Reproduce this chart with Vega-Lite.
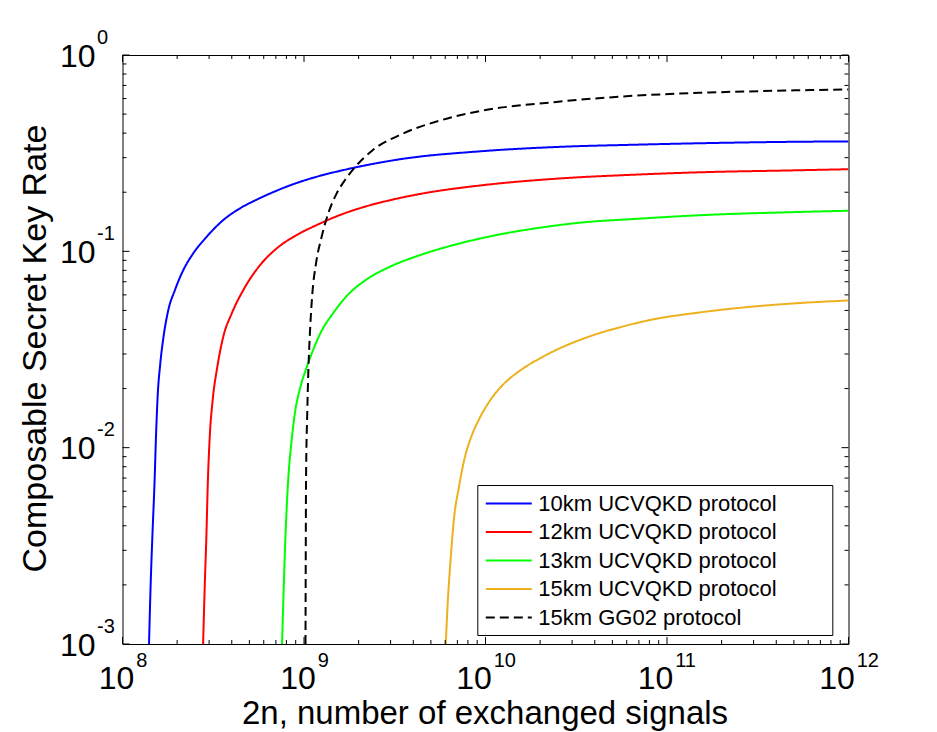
{
  "$schema": "https://vega.github.io/schema/vega-lite/v6.json",
  "width": 726,
  "height": 589,
  "autosize": {"type": "none"},
  "padding": {"left": 122.5, "top": 55, "right": 88.5, "bottom": 88},
  "background": "white",
  "config": {
    "font": "Liberation Sans",
    "view": {"stroke": "black", "strokeWidth": 1},
    "axis": {
      "grid": false,
      "labelColor": "black",
      "titleColor": "black",
      "titleFontWeight": "normal",
      "labelFlush": false,
      "labelOverlap": false,
      "labelBound": false
    }
  },
  "datasets": {
    "curves": [
      {"series": "10km UCVQKD protocol", "n": 1.40e8, "rate": 0.001},
      {"series": "10km UCVQKD protocol", "n": 1.429e8, "rate": 0.002},
      {"series": "10km UCVQKD protocol", "n": 1.462e8, "rate": 0.0036},
      {"series": "10km UCVQKD protocol", "n": 1.50e8, "rate": 0.0065},
      {"series": "10km UCVQKD protocol", "n": 1.531e8, "rate": 0.0117},
      {"series": "10km UCVQKD protocol", "n": 1.563e8, "rate": 0.0185},
      {"series": "10km UCVQKD protocol", "n": 1.611e8, "rate": 0.0262},
      {"series": "10km UCVQKD protocol", "n": 1.679e8, "rate": 0.0362},
      {"series": "10km UCVQKD protocol", "n": 1.786e8, "rate": 0.0500},
      {"series": "10km UCVQKD protocol", "n": 1.945e8, "rate": 0.0635},
      {"series": "10km UCVQKD protocol", "n": 2.163e8, "rate": 0.0803},
      {"series": "10km UCVQKD protocol", "n": 2.455e8, "rate": 0.0977},
      {"series": "10km UCVQKD protocol", "n": 2.91e8, "rate": 0.1187},
      {"series": "10km UCVQKD protocol", "n": 3.59e8, "rate": 0.1443},
      {"series": "10km UCVQKD protocol", "n": 4.44e8, "rate": 0.1656},
      {"series": "10km UCVQKD protocol", "n": 5.48e8, "rate": 0.1832},
      {"series": "10km UCVQKD protocol", "n": 6.78e8, "rate": 0.2004},
      {"series": "10km UCVQKD protocol", "n": 8.38e8, "rate": 0.2168},
      {"series": "10km UCVQKD protocol", "n": 1.035e9, "rate": 0.2317},
      {"series": "10km UCVQKD protocol", "n": 1.277e9, "rate": 0.2449},
      {"series": "10km UCVQKD protocol", "n": 1.578e9, "rate": 0.2570},
      {"series": "10km UCVQKD protocol", "n": 1.91e9, "rate": 0.2673},
      {"series": "10km UCVQKD protocol", "n": 3.51e9, "rate": 0.296},
      {"series": "10km UCVQKD protocol", "n": 9.27e9, "rate": 0.323},
      {"series": "10km UCVQKD protocol", "n": 2.45e10, "rate": 0.340},
      {"series": "10km UCVQKD protocol", "n": 6.47e10, "rate": 0.349},
      {"series": "10km UCVQKD protocol", "n": 1.71e11, "rate": 0.356},
      {"series": "10km UCVQKD protocol", "n": 4.52e11, "rate": 0.361},
      {"series": "10km UCVQKD protocol", "n": 1e12, "rate": 0.363},

      {"series": "12km UCVQKD protocol", "n": 2.78e8, "rate": 0.001},
      {"series": "12km UCVQKD protocol", "n": 2.84e8, "rate": 0.002},
      {"series": "12km UCVQKD protocol", "n": 2.90e8, "rate": 0.0036},
      {"series": "12km UCVQKD protocol", "n": 2.95e8, "rate": 0.0065},
      {"series": "12km UCVQKD protocol", "n": 3.03e8, "rate": 0.0117},
      {"series": "12km UCVQKD protocol", "n": 3.14e8, "rate": 0.0175},
      {"series": "12km UCVQKD protocol", "n": 3.33e8, "rate": 0.0258},
      {"series": "12km UCVQKD protocol", "n": 3.59e8, "rate": 0.0367},
      {"series": "12km UCVQKD protocol", "n": 4.0e8, "rate": 0.0483},
      {"series": "12km UCVQKD protocol", "n": 4.63e8, "rate": 0.0635},
      {"series": "12km UCVQKD protocol", "n": 5.73e8, "rate": 0.0851},
      {"series": "12km UCVQKD protocol", "n": 7.08e8, "rate": 0.1036},
      {"series": "12km UCVQKD protocol", "n": 9.12e8, "rate": 0.1211},
      {"series": "12km UCVQKD protocol", "n": 1.175e9, "rate": 0.1361},
      {"series": "12km UCVQKD protocol", "n": 1.578e9, "rate": 0.1531},
      {"series": "12km UCVQKD protocol", "n": 2.16e9, "rate": 0.1687},
      {"series": "12km UCVQKD protocol", "n": 2.62e9, "rate": 0.177},
      {"series": "12km UCVQKD protocol", "n": 4.47e9, "rate": 0.1968},
      {"series": "12km UCVQKD protocol", "n": 9.27e9, "rate": 0.2163},
      {"series": "12km UCVQKD protocol", "n": 2.45e10, "rate": 0.2344},
      {"series": "12km UCVQKD protocol", "n": 6.47e10, "rate": 0.2455},
      {"series": "12km UCVQKD protocol", "n": 1.71e11, "rate": 0.2535},
      {"series": "12km UCVQKD protocol", "n": 4.52e11, "rate": 0.258},
      {"series": "12km UCVQKD protocol", "n": 1e12, "rate": 0.262},

      {"series": "13km UCVQKD protocol", "n": 7.57e8, "rate": 0.001},
      {"series": "13km UCVQKD protocol", "n": 7.74e8, "rate": 0.002},
      {"series": "13km UCVQKD protocol", "n": 7.91e8, "rate": 0.0036},
      {"series": "13km UCVQKD protocol", "n": 8.18e8, "rate": 0.0068},
      {"series": "13km UCVQKD protocol", "n": 8.55e8, "rate": 0.0109},
      {"series": "13km UCVQKD protocol", "n": 8.91e8, "rate": 0.015},
      {"series": "13km UCVQKD protocol", "n": 9.50e8, "rate": 0.01995},
      {"series": "13km UCVQKD protocol", "n": 1.035e9, "rate": 0.0257},
      {"series": "13km UCVQKD protocol", "n": 1.125e9, "rate": 0.0316},
      {"series": "13km UCVQKD protocol", "n": 1.251e9, "rate": 0.0394},
      {"series": "13km UCVQKD protocol", "n": 1.449e9, "rate": 0.0485},
      {"series": "13km UCVQKD protocol", "n": 1.718e9, "rate": 0.0592},
      {"series": "13km UCVQKD protocol", "n": 2.213e9, "rate": 0.0719},
      {"series": "13km UCVQKD protocol", "n": 2.978e9, "rate": 0.0835},
      {"series": "13km UCVQKD protocol", "n": 4.36e9, "rate": 0.0957},
      {"series": "13km UCVQKD protocol", "n": 6.65e9, "rate": 0.1076},
      {"series": "13km UCVQKD protocol", "n": 1.153e10, "rate": 0.1211},
      {"series": "13km UCVQKD protocol", "n": 2.17e10, "rate": 0.1334},
      {"series": "13km UCVQKD protocol", "n": 3.32e10, "rate": 0.1400},
      {"series": "13km UCVQKD protocol", "n": 6.47e10, "rate": 0.146},
      {"series": "13km UCVQKD protocol", "n": 1.71e11, "rate": 0.1535},
      {"series": "13km UCVQKD protocol", "n": 4.52e11, "rate": 0.158},
      {"series": "13km UCVQKD protocol", "n": 1e12, "rate": 0.161},

      {"series": "15km UCVQKD protocol", "n": 6.04e9, "rate": 0.001},
      {"series": "15km UCVQKD protocol", "n": 6.17e9, "rate": 0.00152},
      {"series": "15km UCVQKD protocol", "n": 6.43e9, "rate": 0.00273},
      {"series": "15km UCVQKD protocol", "n": 6.71e9, "rate": 0.00438},
      {"series": "15km UCVQKD protocol", "n": 7.14e9, "rate": 0.0063},
      {"series": "15km UCVQKD protocol", "n": 7.62e9, "rate": 0.0086},
      {"series": "15km UCVQKD protocol", "n": 8.30e9, "rate": 0.0112},
      {"series": "15km UCVQKD protocol", "n": 9.23e9, "rate": 0.0140},
      {"series": "15km UCVQKD protocol", "n": 1.069e10, "rate": 0.0176},
      {"series": "15km UCVQKD protocol", "n": 1.253e10, "rate": 0.0210},
      {"series": "15km UCVQKD protocol", "n": 1.549e10, "rate": 0.0247},
      {"series": "15km UCVQKD protocol", "n": 1.995e10, "rate": 0.0285},
      {"series": "15km UCVQKD protocol", "n": 2.57e10, "rate": 0.0321},
      {"series": "15km UCVQKD protocol", "n": 3.32e10, "rate": 0.0354},
      {"series": "15km UCVQKD protocol", "n": 4.24e10, "rate": 0.0383},
      {"series": "15km UCVQKD protocol", "n": 5.60e10, "rate": 0.0412},
      {"series": "15km UCVQKD protocol", "n": 7.98e10, "rate": 0.0446},
      {"series": "15km UCVQKD protocol", "n": 1.503e11, "rate": 0.0488},
      {"series": "15km UCVQKD protocol", "n": 2.83e11, "rate": 0.0521},
      {"series": "15km UCVQKD protocol", "n": 5.33e11, "rate": 0.0545},
      {"series": "15km UCVQKD protocol", "n": 1e12, "rate": 0.0562},

      {"series": "15km GG02 protocol", "n": 1.019e9, "rate": 0.001},
      {"series": "15km GG02 protocol", "n": 1.022e9, "rate": 0.0025},
      {"series": "15km GG02 protocol", "n": 1.026e9, "rate": 0.0068},
      {"series": "15km GG02 protocol", "n": 1.042e9, "rate": 0.015},
      {"series": "15km GG02 protocol", "n": 1.057e9, "rate": 0.0248},
      {"series": "15km GG02 protocol", "n": 1.08e9, "rate": 0.0397},
      {"series": "15km GG02 protocol", "n": 1.112e9, "rate": 0.0611},
      {"series": "15km GG02 protocol", "n": 1.165e9, "rate": 0.0869},
      {"series": "15km GG02 protocol", "n": 1.251e9, "rate": 0.1187},
      {"series": "15km GG02 protocol", "n": 1.361e9, "rate": 0.1563},
      {"series": "15km GG02 protocol", "n": 1.514e9, "rate": 0.1974},
      {"series": "15km GG02 protocol", "n": 1.683e9, "rate": 0.2307},
      {"series": "15km GG02 protocol", "n": 1.91e9, "rate": 0.2685},
      {"series": "15km GG02 protocol", "n": 2.38e9, "rate": 0.3266},
      {"series": "15km GG02 protocol", "n": 3.51e9, "rate": 0.398},
      {"series": "15km GG02 protocol", "n": 5.70e9, "rate": 0.4656},
      {"series": "15km GG02 protocol", "n": 9.27e9, "rate": 0.5176},
      {"series": "15km GG02 protocol", "n": 2.45e10, "rate": 0.5768},
      {"series": "15km GG02 protocol", "n": 6.47e10, "rate": 0.6194},
      {"series": "15km GG02 protocol", "n": 1.71e11, "rate": 0.644},
      {"series": "15km GG02 protocol", "n": 4.52e11, "rate": 0.659},
      {"series": "15km GG02 protocol", "n": 1e12, "rate": 0.668}
    ],
    "xticks": [
      {"v": 1e8, "kind": "major"}, {"v": 1e9, "kind": "major"}, {"v": 1e10, "kind": "major"}, {"v": 1e11, "kind": "major"}, {"v": 1e12, "kind": "major"},
      {"v": 2e8, "kind": "minor"}, {"v": 3e8, "kind": "minor"}, {"v": 4e8, "kind": "minor"}, {"v": 5e8, "kind": "minor"}, {"v": 6e8, "kind": "minor"}, {"v": 7e8, "kind": "minor"}, {"v": 8e8, "kind": "minor"}, {"v": 9e8, "kind": "minor"},
      {"v": 2e9, "kind": "minor"}, {"v": 3e9, "kind": "minor"}, {"v": 4e9, "kind": "minor"}, {"v": 5e9, "kind": "minor"}, {"v": 6e9, "kind": "minor"}, {"v": 7e9, "kind": "minor"}, {"v": 8e9, "kind": "minor"}, {"v": 9e9, "kind": "minor"},
      {"v": 2e10, "kind": "minor"}, {"v": 3e10, "kind": "minor"}, {"v": 4e10, "kind": "minor"}, {"v": 5e10, "kind": "minor"}, {"v": 6e10, "kind": "minor"}, {"v": 7e10, "kind": "minor"}, {"v": 8e10, "kind": "minor"}, {"v": 9e10, "kind": "minor"},
      {"v": 2e11, "kind": "minor"}, {"v": 3e11, "kind": "minor"}, {"v": 4e11, "kind": "minor"}, {"v": 5e11, "kind": "minor"}, {"v": 6e11, "kind": "minor"}, {"v": 7e11, "kind": "minor"}, {"v": 8e11, "kind": "minor"}, {"v": 9e11, "kind": "minor"}
    ],
    "yticks": [
      {"v": 0.001, "kind": "major"}, {"v": 0.01, "kind": "major"}, {"v": 0.1, "kind": "major"}, {"v": 1, "kind": "major"},
      {"v": 0.002, "kind": "minor"}, {"v": 0.003, "kind": "minor"}, {"v": 0.004, "kind": "minor"}, {"v": 0.005, "kind": "minor"}, {"v": 0.006, "kind": "minor"}, {"v": 0.007, "kind": "minor"}, {"v": 0.008, "kind": "minor"}, {"v": 0.009, "kind": "minor"},
      {"v": 0.02, "kind": "minor"}, {"v": 0.03, "kind": "minor"}, {"v": 0.04, "kind": "minor"}, {"v": 0.05, "kind": "minor"}, {"v": 0.06, "kind": "minor"}, {"v": 0.07, "kind": "minor"}, {"v": 0.08, "kind": "minor"}, {"v": 0.09, "kind": "minor"},
      {"v": 0.2, "kind": "minor"}, {"v": 0.3, "kind": "minor"}, {"v": 0.4, "kind": "minor"}, {"v": 0.5, "kind": "minor"}, {"v": 0.6, "kind": "minor"}, {"v": 0.7, "kind": "minor"}, {"v": 0.8, "kind": "minor"}, {"v": 0.9, "kind": "minor"}
    ]
  },
  "data": {"name": "curves"},
  "layer": [
    {
      "mark": {"type": "line", "strokeWidth": 2, "clip": true, "interpolate": "monotone"},
      "encoding": {
        "x": {"field": "n", "type": "quantitative", "scale": {"type": "log", "domain": [1e8, 1e12], "nice": false}, "axis": null},
        "y": {"field": "rate", "type": "quantitative", "scale": {"type": "log", "domain": [0.001, 1], "nice": false}, "axis": null},
        "color": {
          "field": "series", "type": "nominal",
          "scale": {
            "domain": ["10km UCVQKD protocol", "12km UCVQKD protocol", "13km UCVQKD protocol", "15km UCVQKD protocol", "15km GG02 protocol"],
            "range": ["#0000ff", "#ff0000", "#00ff00", "#edb120", "#000000"]
          },
          "legend": {
            "title": null,
            "orient": "none",
            "legendX": 354.8,
            "legendY": 430,
            "symbolType": "M-2,0H2",
            "symbolSize": 529,
            "symbolStrokeWidth": 2,
            "symbolOffset": 13,
            "labelOffset": 17,
            "labelFontSize": 22,
            "labelLimit": 600,
            "labelColor": "black",
            "rowPadding": 4.5,
            "padding": 6,
            "strokeColor": "black",
            "fillColor": "white",
            "cornerRadius": 0,
            "labelExpr": "datum.label + '\u00a0\u00a0\u00a0\u00a0\u00a0\u00a0\u00a0\u00a0\u200b'"
          }
        },
        "strokeDash": {
          "field": "series", "type": "nominal",
          "scale": {
            "domain": ["10km UCVQKD protocol", "12km UCVQKD protocol", "13km UCVQKD protocol", "15km UCVQKD protocol", "15km GG02 protocol"],
            "range": [[1, 0], [1, 0], [1, 0], [1, 0], [9, 5]]
          }
        }
      }
    },
    {
      "data": {"name": "xticks"},
      "transform": [{"filter": "datum.kind === 'major'"}],
      "mark": {"type": "rule", "color": "black", "strokeWidth": 1, "y2Offset": -7},
      "encoding": {
        "x": {"field": "v", "type": "quantitative", "axis": null},
        "y": {"datum": 0.001, "type": "quantitative", "axis": null},
        "y2": {"datum": 0.001}
      }
    },
    {
      "data": {"name": "xticks"},
      "transform": [{"filter": "datum.kind === 'minor'"}],
      "mark": {"type": "rule", "color": "black", "strokeWidth": 1, "y2Offset": -4},
      "encoding": {
        "x": {"field": "v", "type": "quantitative", "axis": null},
        "y": {"datum": 0.001, "type": "quantitative", "axis": null},
        "y2": {"datum": 0.001}
      }
    },
    {
      "data": {"name": "xticks"},
      "transform": [{"filter": "datum.kind === 'major'"}],
      "mark": {"type": "rule", "color": "black", "strokeWidth": 1, "y2Offset": 7},
      "encoding": {
        "x": {"field": "v", "type": "quantitative", "axis": null},
        "y": {"datum": 1, "type": "quantitative", "axis": null},
        "y2": {"datum": 1}
      }
    },
    {
      "data": {"name": "xticks"},
      "transform": [{"filter": "datum.kind === 'minor'"}],
      "mark": {"type": "rule", "color": "black", "strokeWidth": 1, "y2Offset": 4},
      "encoding": {
        "x": {"field": "v", "type": "quantitative", "axis": null},
        "y": {"datum": 1, "type": "quantitative", "axis": null},
        "y2": {"datum": 1}
      }
    },
    {
      "data": {"name": "yticks"},
      "transform": [{"filter": "datum.kind === 'major'"}],
      "mark": {"type": "rule", "color": "black", "strokeWidth": 1, "x2Offset": 7},
      "encoding": {
        "y": {"field": "v", "type": "quantitative", "axis": null},
        "x": {"datum": 1e8, "type": "quantitative", "axis": null},
        "x2": {"datum": 1e8}
      }
    },
    {
      "data": {"name": "yticks"},
      "transform": [{"filter": "datum.kind === 'minor'"}],
      "mark": {"type": "rule", "color": "black", "strokeWidth": 1, "x2Offset": 4},
      "encoding": {
        "y": {"field": "v", "type": "quantitative", "axis": null},
        "x": {"datum": 1e8, "type": "quantitative", "axis": null},
        "x2": {"datum": 1e8}
      }
    },
    {
      "data": {"name": "yticks"},
      "transform": [{"filter": "datum.kind === 'major'"}],
      "mark": {"type": "rule", "color": "black", "strokeWidth": 1, "x2Offset": -7},
      "encoding": {
        "y": {"field": "v", "type": "quantitative", "axis": null},
        "x": {"datum": 1e12, "type": "quantitative", "axis": null},
        "x2": {"datum": 1e12}
      }
    },
    {
      "data": {"name": "yticks"},
      "transform": [{"filter": "datum.kind === 'minor'"}],
      "mark": {"type": "rule", "color": "black", "strokeWidth": 1, "x2Offset": -4},
      "encoding": {
        "y": {"field": "v", "type": "quantitative", "axis": null},
        "x": {"datum": 1e12, "type": "quantitative", "axis": null},
        "x2": {"datum": 1e12}
      }
    },
    {
      "mark": {"type": "point", "opacity": 0},
      "encoding": {
        "x": {
          "field": "n", "type": "quantitative",
          "axis": {
            "orient": "bottom", "values": [1e8, 1e9, 1e10, 1e11, 1e12],
            "ticks": false, "domain": false,
            "labelExpr": "'10'", "labelFontSize": 32, "labelAlign": "center", "labelBaseline": "alphabetic",
            "labelPadding": 44,
            "labelOffset": {"condition": {"test": "datum.value >= 1e10", "value": -12}, "value": -6.5},
            "title": "2n, number of exchanged signals", "titleFontSize": 33,
            "titleBaseline": "alphabetic", "titleAlign": "center", "titleX": 362, "titleY": 79
          }
        },
        "y": {
          "field": "rate", "type": "quantitative",
          "axis": {
            "orient": "left", "values": [0.001, 0.01, 0.1, 1],
            "ticks": false, "domain": false,
            "labelExpr": "'10'", "labelFontSize": 32, "labelAlign": "right", "labelBaseline": "alphabetic",
            "labelPadding": 27.5, "labelOffset": 11,
            "title": "Composable Secret Key Rate", "titleFontSize": 34, "titleAngle": 270,
            "titleBaseline": "alphabetic", "titleAlign": "center", "titleX": -77.5, "titleY": 293
          }
        }
      }
    },
    {
      "mark": {"type": "point", "opacity": 0},
      "encoding": {
        "x": {
          "field": "n", "type": "quantitative",
          "axis": {
            "orient": "bottom", "values": [1e8, 1e9, 1e10, 1e11, 1e12],
            "ticks": false, "domain": false,
            "labelExpr": "'' + round(log(datum.value) / LN10)", "labelFontSize": 20, "labelAlign": "left", "labelBaseline": "alphabetic",
            "labelPadding": 22.7,
            "labelOffset": {"condition": {"test": "datum.value >= 1e10", "value": 7.7}, "value": 13.2},
            "title": null
          }
        },
        "y": {
          "field": "rate", "type": "quantitative",
          "axis": {
            "orient": "left", "values": [0.001, 0.01, 0.1, 1],
            "ticks": false, "domain": false,
            "labelExpr": "'' + round(log(datum.value) / LN10)", "labelFontSize": 20, "labelAlign": "left", "labelBaseline": "alphabetic",
            "labelPadding": 26, "labelOffset": -11.7,
            "title": null
          }
        }
      }
    }
  ],
  "resolve": {"axis": {"x": "independent", "y": "independent"}}
}
